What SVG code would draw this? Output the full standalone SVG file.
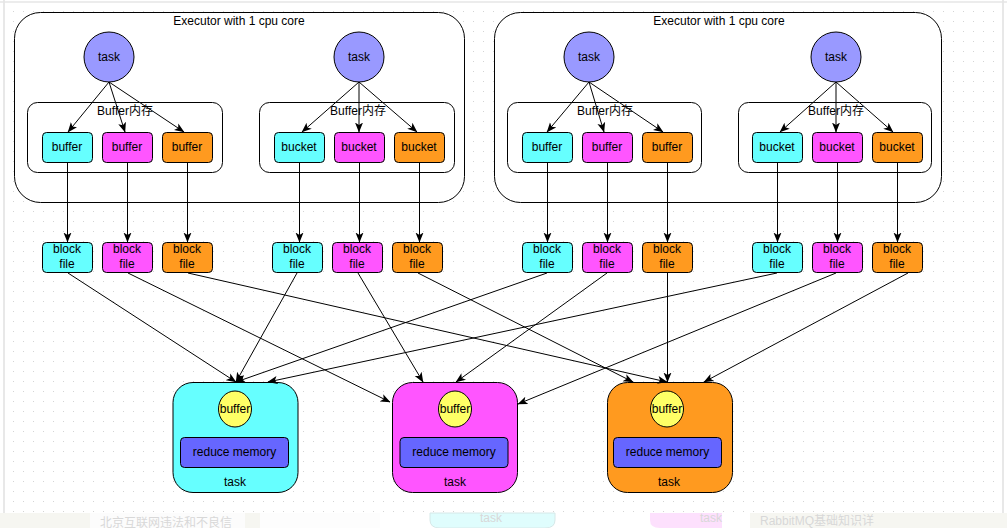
<svg xmlns="http://www.w3.org/2000/svg" width="1007" height="528" viewBox="0 0 1007 528">
<defs>
<pattern id="grid" x="3" y="1" width="10" height="10" patternUnits="userSpaceOnUse">
<rect x="0" y="0" width="1" height="1" fill="#d4d4d4"/>
</pattern>
<marker id="arr" viewBox="0 0 10 10" refX="9.5" refY="5" markerWidth="10" markerHeight="10" markerUnits="userSpaceOnUse" orient="auto">
<path d="M0,1 L10,5 L0,9 L2.5,5 z" fill="#000"/>
</marker>
<style>
text{font-family:"Liberation Sans","Noto Sans CJK SC",Arial,sans-serif;font-size:12px;fill:#000;text-anchor:middle}
.exec{fill:#fff;stroke:#000;stroke-width:1}
.grp{fill:#fff;stroke:#000;stroke-width:1}
.task{fill:#9999FF;stroke:#000;stroke-width:1}
.c{fill:#66FFFF;stroke:#000;stroke-width:1}
.m{fill:#FF55FF;stroke:#000;stroke-width:1}
.o{fill:#FF9A1F;stroke:#000;stroke-width:1}
.yel{fill:#FFFF66;stroke:#000;stroke-width:1}
.rm{fill:#6666FF;stroke:#000;stroke-width:1}
#connectors line{stroke:#000;stroke-width:1;fill:none;marker-end:url(#arr)}
.faint{fill:#d8d8d8}
</style>
</defs>
<rect x="0" y="0" width="1007" height="528" fill="#fff"/>
<rect x="4" y="3" width="999" height="510" fill="url(#grid)"/>
<line x1="4" y1="0" x2="4" y2="513" stroke="#e0e0e0" stroke-width="1.5"/>
<line x1="1003" y1="0" x2="1003" y2="513" stroke="#e0e0e0" stroke-width="1.5"/>
<line x1="0" y1="2" x2="1007" y2="2" stroke="#e6e6e6" stroke-width="1.5"/>

<!-- bottom artifact strip -->
<g id="bottom-strip">
<rect x="0" y="513" width="1007" height="15" fill="#f6f6f1"/>
<rect x="90" y="513" width="155" height="15" fill="#fcfcfc"/>
<rect x="260" y="513" width="120" height="15" fill="#fdfdfd"/>
<rect x="380" y="513" width="370" height="15" fill="#fff"/>
<path d="M430,513 L555,513 L555,520 Q555,528 545,528 L440,528 Q430,528 430,520 z" fill="#dffdfd" stroke="#d6e8e8"/>
<text x="491" y="522" class="faint">task</text>
<path d="M650,513 L722,513 L722,528 L660,528 Q650,528 650,520 z" fill="#fde0fd"/>
<text x="711" y="522" class="faint">task</text>
<text x="166" y="527" class="faint">北京互联网违法和不良信</text>
<text x="817" y="525" class="faint">RabbitMQ基础知识详</text>
</g>

<!-- executors -->
<g id="executor-left">
<rect class="exec" x="14.5" y="12.5" width="450" height="190" rx="26"/>
<text x="239" y="25">Executor with 1 cpu core</text>
</g>
<g id="executor-right">
<rect class="exec" x="494.5" y="12.5" width="447" height="190" rx="26"/>
<text x="719" y="25">Executor with 1 cpu core</text>
</g>

<!-- buffer groups -->
<g id="group-1"><rect class="grp" x="27.5" y="102.5" width="195" height="70" rx="10"/><text x="125" y="115">Buffer内存</text></g>
<g id="group-2"><rect class="grp" x="259.5" y="102.5" width="195" height="70" rx="10"/><text x="358" y="115">Buffer内存</text></g>
<g id="group-3"><rect class="grp" x="507.5" y="102.5" width="194" height="70" rx="10"/><text x="605" y="115">Buffer内存</text></g>
<g id="group-4"><rect class="grp" x="738.5" y="102.5" width="193" height="70" rx="10"/><text x="836" y="115">Buffer内存</text></g>

<!-- map tasks -->
<g id="task-1"><circle class="task" cx="109" cy="57" r="25"/><text x="109" y="61">task</text></g>
<g id="task-2"><circle class="task" cx="359" cy="57" r="25"/><text x="359" y="61">task</text></g>
<g id="task-3"><circle class="task" cx="589" cy="57" r="25"/><text x="589" y="61">task</text></g>
<g id="task-4"><circle class="task" cx="836" cy="57" r="25"/><text x="836" y="61">task</text></g>

<!-- buffers / buckets -->
<g id="buf-1c"><rect class="c" x="42.5" y="132.5" width="50" height="30" rx="4"/><text x="67" y="151">buffer</text></g>
<g id="buf-1m"><rect class="m" x="102.5" y="132.5" width="50" height="30" rx="4"/><text x="127" y="151">buffer</text></g>
<g id="buf-1o"><rect class="o" x="162.5" y="132.5" width="50" height="30" rx="4"/><text x="187" y="151">buffer</text></g>
<g id="bkt-2c"><rect class="c" x="274.5" y="132.5" width="50" height="30" rx="4"/><text x="299" y="151">bucket</text></g>
<g id="bkt-2m"><rect class="m" x="334.5" y="132.5" width="50" height="30" rx="4"/><text x="359" y="151">bucket</text></g>
<g id="bkt-2o"><rect class="o" x="394.5" y="132.5" width="50" height="30" rx="4"/><text x="419" y="151">bucket</text></g>
<g id="buf-3c"><rect class="c" x="522.5" y="132.5" width="50" height="30" rx="4"/><text x="547" y="151">buffer</text></g>
<g id="buf-3m"><rect class="m" x="582.5" y="132.5" width="50" height="30" rx="4"/><text x="607" y="151">buffer</text></g>
<g id="buf-3o"><rect class="o" x="642.5" y="132.5" width="50" height="30" rx="4"/><text x="667" y="151">buffer</text></g>
<g id="bkt-4c"><rect class="c" x="752.5" y="132.5" width="50" height="30" rx="4"/><text x="777" y="151">bucket</text></g>
<g id="bkt-4m"><rect class="m" x="812.5" y="132.5" width="50" height="30" rx="4"/><text x="837" y="151">bucket</text></g>
<g id="bkt-4o"><rect class="o" x="872.5" y="132.5" width="50" height="30" rx="4"/><text x="897" y="151">bucket</text></g>

<!-- block files -->
<g id="bf-1c"><rect class="c" x="42.5" y="242.5" width="50" height="30" rx="4"/><text x="67" y="253">block</text><text x="67" y="268">file</text></g>
<g id="bf-1m"><rect class="m" x="102.5" y="242.5" width="50" height="30" rx="4"/><text x="127" y="253">block</text><text x="127" y="268">file</text></g>
<g id="bf-1o"><rect class="o" x="162.5" y="242.5" width="50" height="30" rx="4"/><text x="187" y="253">block</text><text x="187" y="268">file</text></g>
<g id="bf-2c"><rect class="c" x="272.5" y="242.5" width="50" height="30" rx="4"/><text x="297" y="253">block</text><text x="297" y="268">file</text></g>
<g id="bf-2m"><rect class="m" x="332.5" y="242.5" width="50" height="30" rx="4"/><text x="357" y="253">block</text><text x="357" y="268">file</text></g>
<g id="bf-2o"><rect class="o" x="392.5" y="242.5" width="50" height="30" rx="4"/><text x="417" y="253">block</text><text x="417" y="268">file</text></g>
<g id="bf-3c"><rect class="c" x="522.5" y="242.5" width="50" height="30" rx="4"/><text x="547" y="253">block</text><text x="547" y="268">file</text></g>
<g id="bf-3m"><rect class="m" x="582.5" y="242.5" width="50" height="30" rx="4"/><text x="607" y="253">block</text><text x="607" y="268">file</text></g>
<g id="bf-3o"><rect class="o" x="642.5" y="242.5" width="50" height="30" rx="4"/><text x="667" y="253">block</text><text x="667" y="268">file</text></g>
<g id="bf-4c"><rect class="c" x="752.5" y="242.5" width="50" height="30" rx="4"/><text x="777" y="253">block</text><text x="777" y="268">file</text></g>
<g id="bf-4m"><rect class="m" x="812.5" y="242.5" width="50" height="30" rx="4"/><text x="837" y="253">block</text><text x="837" y="268">file</text></g>
<g id="bf-4o"><rect class="o" x="872.5" y="242.5" width="50" height="30" rx="4"/><text x="897" y="253">block</text><text x="897" y="268">file</text></g>

<!-- reduce tasks -->
<g id="reduce-c">
<rect class="c" x="173" y="382.5" width="125" height="110" rx="20"/>
<ellipse class="yel" cx="235" cy="409" rx="16.5" ry="18"/><text x="235" y="413">buffer</text>
<rect class="rm" x="180.5" y="437.5" width="108" height="30" rx="4"/><text x="234.5" y="456">reduce memory</text>
<text x="235" y="486">task</text>
</g>
<g id="reduce-m">
<rect class="m" x="392.5" y="382.5" width="125" height="110" rx="20"/>
<ellipse class="yel" cx="455" cy="409" rx="16.5" ry="18"/><text x="455" y="413">buffer</text>
<rect class="rm" x="400" y="437.5" width="108" height="30" rx="4"/><text x="454" y="456">reduce memory</text>
<text x="455" y="486">task</text>
</g>
<g id="reduce-o">
<rect class="o" x="607.5" y="382.5" width="125" height="110" rx="20"/>
<ellipse class="yel" cx="667" cy="409" rx="16.5" ry="18"/><text x="667" y="413">buffer</text>
<rect class="rm" x="613.5" y="437.5" width="108" height="30" rx="4"/><text x="667.5" y="456">reduce memory</text>
<text x="669" y="486">task</text>
</g>

<!-- connectors -->
<g id="connectors">
<line x1="109" y1="82" x2="68" y2="132"/>
<line x1="109" y1="82" x2="125" y2="132"/>
<line x1="109" y1="82" x2="184" y2="132"/>
<line x1="359" y1="82" x2="302" y2="132"/>
<line x1="359" y1="82" x2="359" y2="132"/>
<line x1="359" y1="82" x2="417" y2="132"/>
<line x1="589" y1="82" x2="547" y2="132"/>
<line x1="589" y1="82" x2="604" y2="132"/>
<line x1="589" y1="82" x2="663" y2="132"/>
<line x1="836" y1="82" x2="780" y2="132"/>
<line x1="836" y1="82" x2="836" y2="132"/>
<line x1="836" y1="82" x2="893" y2="132"/>

<line x1="67.5" y1="163" x2="67.5" y2="242"/>
<line x1="127.5" y1="163" x2="127.5" y2="242"/>
<line x1="187.5" y1="163" x2="187.5" y2="242"/>
<line x1="299.5" y1="163" x2="299.5" y2="242"/>
<line x1="359.5" y1="163" x2="359.5" y2="242"/>
<line x1="419.5" y1="163" x2="419.5" y2="242"/>
<line x1="547.5" y1="163" x2="547.5" y2="242"/>
<line x1="607.5" y1="163" x2="607.5" y2="242"/>
<line x1="667.5" y1="163" x2="667.5" y2="242"/>
<line x1="777.5" y1="163" x2="777.5" y2="242"/>
<line x1="837.5" y1="163" x2="837.5" y2="242"/>
<line x1="897.5" y1="163" x2="897.5" y2="242"/>

<line x1="68" y1="273" x2="236" y2="382"/>
<line x1="128" y1="273" x2="390" y2="402"/>
<line x1="188" y1="273" x2="667" y2="382"/>
<line x1="297" y1="273" x2="236" y2="382"/>
<line x1="358" y1="273" x2="423" y2="382"/>
<line x1="418" y1="273" x2="633" y2="382"/>
<line x1="547" y1="273" x2="236" y2="382"/>
<line x1="607" y1="273" x2="456" y2="382"/>
<line x1="667.5" y1="273" x2="667.5" y2="382"/>
<line x1="777" y1="273" x2="268" y2="382"/>
<line x1="836" y1="273" x2="518" y2="404"/>
<line x1="908" y1="273" x2="704" y2="382"/>
</g>
</svg>
